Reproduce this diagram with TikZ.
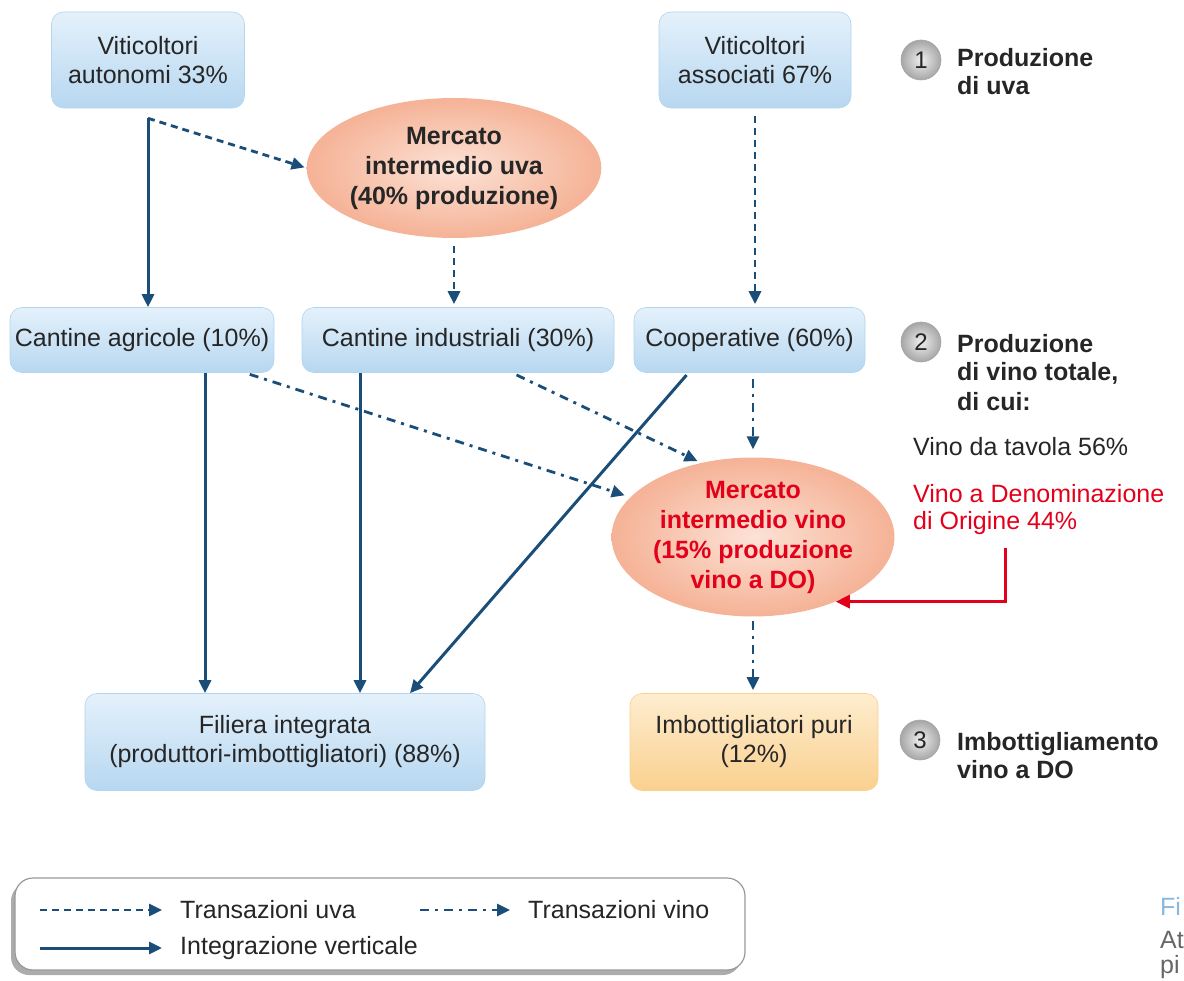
\documentclass[tikz,border=0pt]{standalone}
\usepackage{fontspec}
\setmainfont{Liberation Sans}
\usetikzlibrary{arrows.meta,shapes.geometric,shadows,calc}

\definecolor{linea}{HTML}{1A4E79}
\definecolor{rosso}{HTML}{E2001A}
\definecolor{testo}{HTML}{262626}
\definecolor{celesteA}{HTML}{E4F1FB}
\definecolor{celesteB}{HTML}{B7D7F0}
\definecolor{celesteC}{HTML}{B2D4EE}
\definecolor{aranA}{HTML}{FEEDCF}
\definecolor{aranB}{HTML}{FAD08F}
\definecolor{salmoneA}{HTML}{FCE2D6}
\definecolor{salmoneB}{HTML}{F5B296}
\definecolor{didasc}{HTML}{86B9DD}

\tikzset{
  testonorm/.style={font=\fontsize{25}{29}\selectfont, text=testo},
  casella/.style={testonorm, rectangle, rounded corners=12pt, top color=celesteA, bottom color=celesteB, draw=celesteC, line width=0.6pt, align=center, inner sep=0pt},
  casellaor/.style={casella, top color=aranA, bottom color=aranB, draw=aranB},
  mercato/.style={ellipse, inner sep=0pt, inner color=salmoneA, outer color=salmoneB, align=center, font=\bfseries\fontsize{25}{30}\selectfont, text=testo},
  fase/.style={circle, minimum size=40pt, inner sep=0pt, inner color=gray!12, outer color=gray!70, draw=gray!70, line width=0.6pt, font=\fontsize{24}{24}\selectfont, text=testo},
  fasetesto/.style={anchor=north west, align=left, inner sep=0pt, font=\bfseries\fontsize{25}{28}\selectfont, text=testo},
  integra/.style={draw=linea, line width=3pt, -{Triangle[length=13pt,width=12pt]}},
  uva/.style={integra, line width=2.8pt, dash pattern=on 7pt off 5pt},
  vino/.style={integra, line width=2.8pt, dash pattern=on 9pt off 6pt on 3pt off 6pt},
  docrosso/.style={draw=rosso, line width=3pt, -{Triangle[length=14pt,width=13pt]}},
  legenda/.style={rectangle, rounded corners=18pt, draw=gray!80, line width=1.2pt, fill=white, drop shadow={shadow xshift=-4pt, shadow yshift=-5pt, fill=gray!65, opacity=1}}
}

\begin{document}
\begin{tikzpicture}[x=1pt,y=-1pt]
	\useasboundingbox (0,0) rectangle (1184,981);
	% produzione di uva
	\node[casella, minimum width=193pt, minimum height=96pt] (autonomi) at (148,60) {Viticoltori\\autonomi 33\%};
	\node[casella, minimum width=192pt, minimum height=96pt] (associati) at (755,60) {Viticoltori\\associati 67\%};
	\node[mercato, minimum width=276pt, minimum height=140pt] (uvamerc) at (454,168) {Mercato\\intermedio uva\\(40\% produzione)};
	% produzione di vino
	\node[casella, minimum width=264pt, minimum height=65pt] (agricole) at (142,340) {Cantine agricole (10\%)};
	\node[casella, minimum width=312pt, minimum height=65pt] (industriali) at (458,340) {Cantine industriali (30\%)};
	\node[casella, minimum width=231pt, minimum height=65pt] (cooperative) at (749.5,340) {Cooperative (60\%)};
	\node[mercato, text=rosso, minimum width=266pt, minimum height=148pt] (vinomerc) at (753,537) {Mercato\\intermedio vino\\(15\% produzione\\vino a DO)};
	% imbottigliamento
	\node[casella, minimum width=400pt, minimum height=97pt] (filiera) at (285,742) {Filiera integrata\\(produttori-imbottigliatori) (88\%)};
	\node[casellaor, minimum width=248pt, minimum height=97pt] (imbott) at (754,742) {Imbottigliatori puri\\(12\%)};

	% fasi
	\node[fase] (fase1) at (921,60) {1};
	\node[fasetesto] (fase1t) at (957,48) {Produzione\\di uva};
	\node[fase] (fase2) at (921,342) {2};
	\node[fasetesto] (fase2t) at (957,334) {Produzione\\di vino totale,\\[2pt]di cui:};
	\node[fase] (fase3) at (920,740) {3};
	\node[fasetesto] (fase3t) at (957,732) {Imbottigliamento\\vino a DO};
	\node[testonorm, anchor=west, inner sep=0pt] (tavola) at (913,447) {Vino da tavola 56\%};
	\node[testonorm, text=rosso, anchor=north west, align=left, inner sep=0pt, font=\fontsize{25}{27}\selectfont] (denom) at (913,484) {Vino a Denominazione\\di Origine 44\%};

	% transazioni e integrazione
	\coordinate (autpiede) at ($(autonomi.south)+(0,10)$);
	\draw[integra] (autpiede) -- (autpiede |- agricole.north);
	\draw[uva, shorten >=2pt] (autpiede) -- (uvamerc.west);
	\draw[uva, shorten <=8pt, shorten >=3pt] (uvamerc.south) -- (uvamerc.south |- industriali.north);
	\draw[uva, shorten <=8pt, shorten >=3pt] (associati.south) -- (associati.south |- cooperative.north);
	\coordinate (agrpiede) at ($(agricole.south)+(63,0)$);
	\draw[integra] (agrpiede) -- (agrpiede |- filiera.north);
	\coordinate (indpiede) at ($(industriali.south)+(-98,0)$);
	\draw[integra] (indpiede) -- (indpiede |- filiera.north);
	\draw[integra, shorten <=3pt] ($(cooperative.south)+(-61,0)$) -- ($(filiera.north)+(125,0)$);
	\draw[vino, shorten <=5pt, shorten >=6pt] ($(agricole.south)+(103,0)$) -- (vinomerc.162);
	\draw[vino, shorten <=5pt, shorten >=4pt] ($(industriali.south)+(54,0)$) -- (vinomerc.125);
	\draw[vino, shorten <=6pt, shorten >=8pt] (cooperative.south -| vinomerc.north) -- (vinomerc.north);
	\draw[vino, shorten <=4pt, shorten >=3pt] (vinomerc.south) -- (vinomerc.south |- imbott.north);
	\coordinate (dopiede) at ($(denom.south west)+(92,13)$);
	\draw[docrosso] (dopiede) |- (vinomerc.-38);

	% legenda
	\node[legenda, minimum width=730pt, minimum height=92pt] (legenda) at (380,924) {};
	\node[testonorm, anchor=west, inner sep=0pt] (leguva) at (180,910) {Transazioni uva};
	\node[testonorm, anchor=west, inner sep=0pt] (legvino) at (528,910) {Transazioni vino};
	\node[testonorm, anchor=west, inner sep=0pt] (legint) at (180,948) {Integrazione verticale};
	\coordinate (leguvainizio) at (40,910);
	\coordinate (legvinoinizio) at (420,910);
	\coordinate (legintinizio) at (40,948);
	\draw[uva, shorten >=18pt] (leguvainizio) -- (leguva.west);
	\draw[vino, shorten >=18pt] (legvinoinizio) -- (legvino.west);
	\draw[integra, shorten >=18pt] (legintinizio) -- (legint.west);

	% didascalia tagliata
	\node[testonorm, text=didasc, anchor=west, inner sep=0pt] (figtit) at (1160,906) {Fi};
	\node[testonorm, text=gray!80!black, anchor=west, inner sep=0pt] (figat) at (1160,940) {At};
	\node[testonorm, text=gray!80!black, anchor=west, inner sep=0pt] (figpi) at (1160,967) {pi};
\end{tikzpicture}
\end{document}
